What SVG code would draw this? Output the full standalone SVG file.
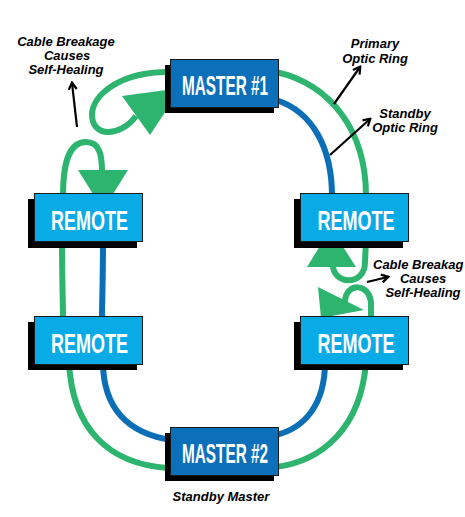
<svg xmlns="http://www.w3.org/2000/svg" width="465" height="517" viewBox="0 0 465 517">
<defs>
<style>
.bg{fill:#ffffff}
.g{fill:none;stroke:#2db46f;stroke-width:6;stroke-linecap:butt}
.b{fill:none;stroke:#0b6fb8;stroke-width:6;stroke-linecap:butt}
.tri{fill:#2db46f}
.sh{fill:#000000}
.master{fill:#0b6fba;stroke:#1a1a1a;stroke-width:1}
.remote{fill:#08abe5;stroke:#1a1a1a;stroke-width:1}
.lbl{font-family:"Liberation Sans Narrow","Liberation Sans",Arial,sans-serif;font-weight:bold;font-size:28px;fill:#ffffff}
.note{font-family:"Liberation Sans",Arial,sans-serif;font-weight:bold;font-style:italic;font-size:13px;fill:#000000}
.ptr{fill:none;stroke:#000000;stroke-width:2.2}
</style>
<marker id="chev" viewBox="0 0 10 10" refX="8" refY="5" markerWidth="10" markerHeight="10" markerUnits="userSpaceOnUse" orient="auto">
<path d="M1.5,1 L8.5,5 L1.5,9" fill="none" stroke="#000000" stroke-width="2.2"/>
</marker>
</defs>
<rect class="bg" x="0" y="0" width="465" height="517"/>

<g id="connectors">
<!-- primary (green) ring -->
<path class="g" d="M276,72 C 330,84 366,130 366,196"/>
<path class="g" d="M62,242 C 62,280 63,300 63,320"/>
<path class="g" d="M69,362 C 72,428 108,464 168,468"/>
<path class="g" d="M366,362 C 361,428 322,461 276,467"/>
<!-- standby (blue) ring -->
<path class="b" d="M276,100 C 314,112 332,150 332,196"/>
<path class="b" d="M103,242 C 103,280 102,300 102,320"/>
<path class="b" d="M103,362 C 103,408 128,434 172,440"/>
<path class="b" d="M325,362 C 325,404 305,428 276,435"/>
<!-- self-healing loop top-left -->
<path class="g" d="M168,72 C 120,72 92,95 92,115 C 92,137 120,138 136,116"/>
<polygon class="tri" points="122,96 150,135 181,88"/>
<path class="g" d="M63,196 C 63,160 70,142 86,142 C 100,142 102,156 102,172"/>
<polygon class="tri" points="78,170 128,170 103,210"/>
<!-- self-healing loop right -->
<path class="g" d="M333,264 C 332,285 365,287 365,262 L 366,240"/>
<polygon class="tri" points="307,267 356,267 331,228"/>
<path class="g" d="M371,319 L 371,305 C 371,282 345,282 345,302"/>
<polygon class="tri" points="318,287 321,318 364,310"/>
</g>

<g id="master1">
<rect class="sh" x="165" y="65" width="109" height="48"/>
<rect class="master" x="170.5" y="59.5" width="108" height="48"/>
<text class="lbl" x="225" y="95" text-anchor="middle" textLength="86" lengthAdjust="spacingAndGlyphs">MASTER #1</text>
</g>
<g id="remote-tl">
<rect class="sh" x="28" y="199" width="109" height="49"/>
<rect class="remote" x="34.5" y="193.5" width="108" height="48"/>
<text class="lbl" x="89.5" y="230" text-anchor="middle" textLength="77" lengthAdjust="spacingAndGlyphs">REMOTE</text>
</g>
<g id="remote-tr">
<rect class="sh" x="294" y="199" width="109" height="49"/>
<rect class="remote" x="300.5" y="193.5" width="108" height="48"/>
<text class="lbl" x="356" y="230" text-anchor="middle" textLength="77" lengthAdjust="spacingAndGlyphs">REMOTE</text>
</g>
<g id="remote-bl">
<rect class="sh" x="28" y="322" width="109" height="48"/>
<rect class="remote" x="34.5" y="316.5" width="108" height="48"/>
<text class="lbl" x="89.5" y="353" text-anchor="middle" textLength="77" lengthAdjust="spacingAndGlyphs">REMOTE</text>
</g>
<g id="remote-br">
<rect class="sh" x="294" y="322" width="109" height="48"/>
<rect class="remote" x="300.5" y="316.5" width="108" height="48"/>
<text class="lbl" x="356" y="353" text-anchor="middle" textLength="77" lengthAdjust="spacingAndGlyphs">REMOTE</text>
</g>
<g id="master2">
<rect class="sh" x="165" y="433" width="109" height="48"/>
<rect class="master" x="170.5" y="427.5" width="108" height="48"/>
<text class="lbl" x="225" y="463" text-anchor="middle" textLength="86" lengthAdjust="spacingAndGlyphs">MASTER #2</text>
<text class="note" x="221" y="501" text-anchor="middle">Standby Master</text>
</g>

<g id="annotations">
<text class="note" text-anchor="middle"><tspan x="66" y="46">Cable Breakage</tspan><tspan x="67" y="60">Causes</tspan><tspan x="66" y="74">Self-Healing</tspan></text>
<line class="ptr" x1="77" y1="127" x2="72" y2="83" marker-end="url(#chev)"/>
<text class="note" text-anchor="middle"><tspan x="375" y="48">Primary</tspan><tspan x="375" y="63">Optic Ring</tspan></text>
<line class="ptr" x1="334" y1="104" x2="360" y2="67" marker-end="url(#chev)"/>
<text class="note" text-anchor="middle"><tspan x="405" y="118">Standby</tspan><tspan x="405" y="132">Optic Ring</tspan></text>
<line class="ptr" x1="330" y1="155" x2="370" y2="119" marker-end="url(#chev)"/>
<text class="note"><tspan x="373" y="269">Cable Breakag</tspan><tspan x="423" y="283" text-anchor="middle">Causes</tspan><tspan x="423" y="297" text-anchor="middle">Self-Healing</tspan></text>
<line class="ptr" x1="367" y1="282" x2="388" y2="277" marker-end="url(#chev)"/>
</g>
</svg>
